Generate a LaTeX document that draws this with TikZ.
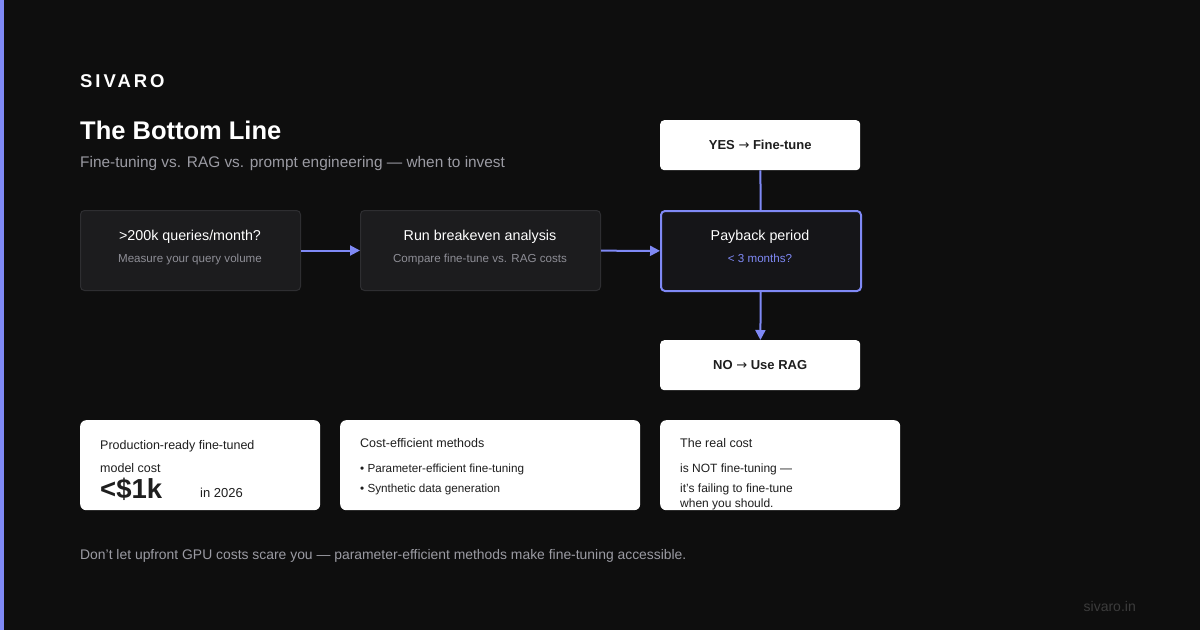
\documentclass[tikz,border=0pt]{standalone}
\usepackage{fontspec}
\setmainfont{Liberation Sans}
\newfontfamily\arrowfont{DejaVu Sans}
\usetikzlibrary{positioning, arrows.meta}
\definecolor{bgdark}{HTML}{0E0E0E}
\definecolor{accent}{HTML}{7F89F5}
\definecolor{stepfill}{HTML}{1C1C1E}
\definecolor{stepline}{HTML}{2E2E31}
\definecolor{paybackfill}{HTML}{151518}
\definecolor{mutedgray}{HTML}{9B9BA3}
\definecolor{notegray}{HTML}{8E8E96}
\definecolor{inkdark}{HTML}{1E1E1E}
\definecolor{faintgray}{HTML}{3C3C3C}
\newcommand{\toarrow}{{\arrowfont\mdseries →}}
\tikzset{
x=1pt, y=-1pt, % one unit is one pixel, y runs down
>={Triangle[length=10pt, width=10pt]}, % filled arrow heads
flow/.style={draw=accent, line width=2pt}, % the connectors
stepbox/.style={draw=stepline, fill=stepfill, line width=1pt, rounded corners=4pt, minimum width=#1, minimum height=80pt, inner sep=0pt, anchor=north west}, % dark step boxes
answerbox/.style={fill=white, rounded corners=4pt, minimum width=200pt, minimum height=50pt, inner sep=0pt, anchor=north west, text=inkdark, font=\bfseries\fontsize{13}{15}\selectfont}, % yes / no boxes
card/.style={fill=white, rounded corners=6pt, minimum width=#1, minimum height=90pt, inner sep=0pt, anchor=north west}, % white cards at the bottom
steptitle/.style={text=white, anchor=base, font=\fontsize{14.3}{17}\selectfont},
stepnote/.style={text=notegray, anchor=base, font=\fontsize{11.6}{14}\selectfont},
cardtext/.style={text=inkdark, anchor=base west, inner sep=0pt, font=\fontsize{12.5}{15}\selectfont},
}
\begin{document}
\begin{tikzpicture}
\fill[bgdark] (0,0) rectangle (1200,630);
\useasboundingbox (0,0) rectangle (1200,630);
\fill[accent] (0,0) rectangle (4,630);

% heading
\node[text=white, anchor=base west, inner sep=0pt, font=\bfseries\fontsize{18.5}{22}\selectfont\addfontfeature{LetterSpace=16}] (brand) at (80,87) {SIVARO};
\node[text=white, anchor=base west, inner sep=0pt, font=\bfseries\fontsize{25.5}{30}\selectfont] (title) at (80,139) {The Bottom Line};
\node[text=mutedgray, anchor=base west, inner sep=0pt, font=\fontsize{15.4}{18}\selectfont] (subtitle) at (80,167) {Fine-tuning vs. RAG vs. prompt engineering — when to invest};

% flow
\node[stepbox=220pt] (volume) at (80,210) {};
\node[stepbox=240pt] (breakeven) at (360,210) {};
\node[stepbox=200pt, draw=accent, fill=paybackfill, line width=2pt] (payback) at (660,210) {};
\node[answerbox] (yes) at (660,120) {YES \toarrow{} Fine-tune};
\node[answerbox] (no) at (660,340) {NO \toarrow{} Use RAG};

\node[steptitle] (volumetitle) at (190,240) {>200k queries/month?};
\node[stepnote] (volumenote) at (190,262) {Measure your query volume};
\node[steptitle] (breakeventitle) at (480,240) {Run breakeven analysis};
\node[stepnote] (breakevennote) at (480,262) {Compare fine-tune vs. RAG costs};
\node[steptitle] (paybacktitle) at (760,240) {Payback period};
\node[stepnote, text=accent] (paybacknote) at (760,262) {< 3 months?};

\draw[flow, ->] (volume) -- (breakeven);
\draw[flow, ->] (breakeven) -- (payback);
\draw[flow] (yes) -- (payback);
\draw[flow, ->] (payback) -- (no);

% cards
\node[card=240pt] (costcard) at (80,420) {};
\node[card=300pt] (methodcard) at (340,420) {};
\node[card=240pt] (realcard) at (660,420) {};

\node[cardtext] (cost1) at (100,449) {Production-ready fine-tuned};
\node[cardtext] (cost2) at (100,472) {model cost};
\node[cardtext, font=\bfseries\fontsize{27.5}{30}\selectfont] (costvalue) at (100,498) {<\$1k};
\node[cardtext, font=\fontsize{13}{15}\selectfont] (costyear) at (200,497) {in 2026};

\node[cardtext] (method1) at (360,447) {Cost-efficient methods};
\node[cardtext, font=\fontsize{11.7}{14}\selectfont] (method2) at (360,472) {• Parameter-efficient fine-tuning};
\node[cardtext, font=\fontsize{11.7}{14}\selectfont] (method3) at (360,492) {• Synthetic data generation};

\node[cardtext] (real1) at (680,447) {The real cost};
\node[cardtext, font=\fontsize{12}{14}\selectfont] (real2) at (680,472) {is NOT fine-tuning —};
\node[cardtext, font=\fontsize{12}{14}\selectfont] (real3) at (680,492) {it's failing to fine-tune};
\node[cardtext, font=\fontsize{12}{14}\selectfont] (real4) at (680,507) {when you should.};

% footer
\node[text=mutedgray, anchor=base west, inner sep=0pt, font=\fontsize{13.9}{16}\selectfont] (footer) at (80,559) {Don't let upfront GPU costs scare you — parameter-efficient methods make fine-tuning accessible.};
\node[text=faintgray, anchor=base east, inner sep=0pt, font=\fontsize{14}{16}\selectfont] (site) at (1136,611) {sivaro.in};
\end{tikzpicture}
\end{document}
